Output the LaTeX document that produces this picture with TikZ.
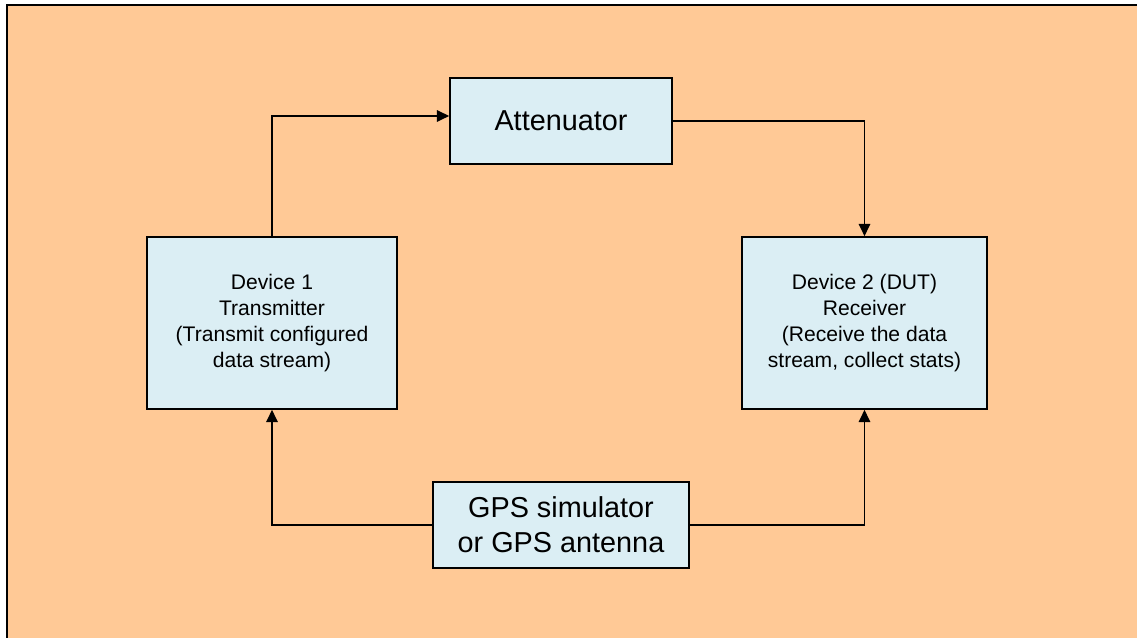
\documentclass[tikz,border=0pt]{standalone}
\usepackage{fontspec}
\setmainfont{Liberation Sans}
\usetikzlibrary{arrows.meta}
\definecolor{bgorange}{RGB}{255,201,150}
\definecolor{boxblue}{RGB}{219,238,244}

\begin{document}
\begin{tikzpicture}[x=0.02cm, y=0.02cm,
    block/.style={draw, line width=0.9pt, fill=boxblue, align=center, inner sep=0pt},
    big/.style={font=\fontsize{16.4}{19.8}\selectfont},
    small/.style={font=\fontsize{12}{14.7}\selectfont},
    link/.style={line width=0.9pt, -{Triangle[length=7pt,width=6.5pt]}}]
\useasboundingbox (0,0) rectangle (1137,638);
\fill[bgorange] (7,0) rectangle (1137,633);
\draw[line width=1.5pt] (7,0) -- (7,633) -- (1137,633);
\node[block, big, minimum width=222*0.02cm, minimum height=86*0.02cm] (att) at (561,517) {Attenuator};
\node[block, small, minimum width=250*0.02cm, minimum height=172*0.02cm] (dev1) at (272,315)
    {Device 1\\Transmitter\\(Transmit configured\\data stream)};
\node[block, small, minimum width=245*0.02cm, minimum height=172*0.02cm] (dev2) at (864.5,315)
    {Device 2 (DUT)\\Receiver\\(Receive the data\\stream, collect stats)};
\node[block, big, minimum width=256*0.02cm, minimum height=86*0.02cm] (gps) at (561,113)
    {GPS simulator\\or GPS antenna};
\draw[link] (dev1.north) |- ([yshift=0.1cm]att.west);
\draw[link] (att.east) -| (dev2.north);
\draw[link] (gps.west) -| (dev1.south);
\draw[link] (gps.east) -| (dev2.south);
\end{tikzpicture}
\end{document}
